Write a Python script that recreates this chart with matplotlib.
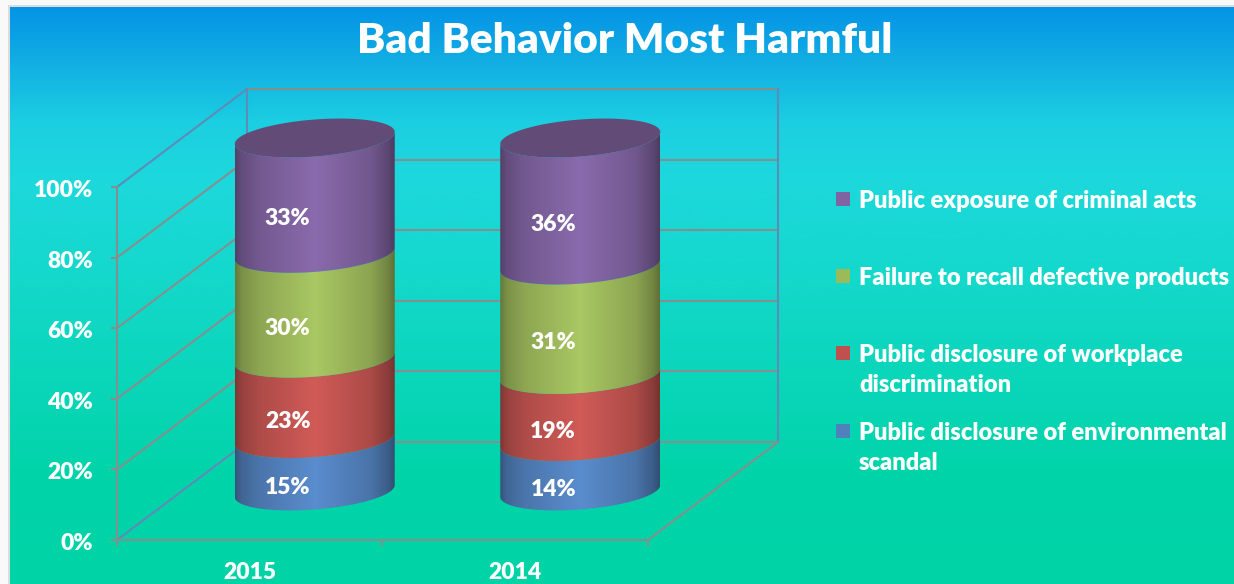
import numpy as np
import matplotlib
matplotlib.use("Agg")
import matplotlib.pyplot as plt
from matplotlib.colors import to_rgb
from matplotlib.patches import PathPatch, Rectangle
from matplotlib.path import Path
from matplotlib.transforms import ScaledTranslation

# DATA (bottom to top of the stack)
YEARS = ["2015", "2014"]
ENVIRONMENTAL = [15, 14]
WORKPLACE = [23, 19]
RECALL = [30, 31]
CRIMINAL = [33, 36]
SERIES = [ENVIRONMENTAL, WORKPLACE, RECALL, CRIMINAL]
Y_TICKS = [0, 20, 40, 60, 80, 100]
TITLE = "Bad Behavior Most Harmful"
LEGEND_LABELS = [
    "Public exposure of criminal acts",
    "Failure to recall defective products",
    "Public disclosure of workplace\ndiscrimination",
    "Public disclosure of environmental\nscandal",
]

# STYLE
W, H = 1234, 584
COLORS = ["#5a8dce", "#d15b57", "#aac863", "#8a6bad"]
LEGEND_COLORS = ["#8064a2", "#9bbb59", "#c0504d", "#4f81bd"]
LEGEND_Y = [199, 276, 353, 431]
TOP_COLOR = "#624b77"
GRID = "#84908f"
GRID_BLUE = "#5c8cb8"
FONT = "Lato"
WEIGHT = "heavy"

# Axes geometry: front plane in pixels, depth offset in data units
AX_LEFT, AX_RIGHT, AX_TOP, AX_BOTTOM = 117, 648, 187, 540
X_UNIT = (AX_RIGHT - AX_LEFT) / len(YEARS)
Y_UNIT = (AX_BOTTOM - AX_TOP) / 100
DEPTH_X = 130 / X_UNIT
DEPTH_Y = 98 / Y_UNIT
RADIUS = 80 / X_UNIT
ELL_B = 18.5 / Y_UNIT
ELL_TILT = 6 / Y_UNIT


def ellipse_xy(cx, cy, t):
    cost, sint = np.cos(t), np.sin(t)
    return cx + RADIUS * cost, cy + ELL_B * sint + ELL_TILT * cost


def draw_background(fig):
    fig.patch.set_facecolor("#f9f9f9")
    fig.add_artist(Rectangle((8 / W, 0), 1, 1 - 5 / H, transform=fig.transFigure,
                             facecolor="#dcdcdc", edgecolor="none", zorder=-1))
    bg = fig.add_axes([10 / W, 0, 1 - 10 / W, 1 - 7 / H], zorder=0)
    stops_y = [0, 0.10, 0.20, 0.30, 0.50, 0.80, 1]
    stops_c = ["#0594e6", "#12b0e3", "#1ccfe1", "#1dd8dc", "#12d8c8", "#02d4aa", "#00d3a5"]
    rows = np.linspace(0, 1, 256)
    channels = np.array([to_rgb(c) for c in stops_c])
    grad = np.stack([np.interp(rows, stops_y, channels[:, i]) for i in range(3)], axis=1)
    bg.imshow(grad[:, None, :], aspect="auto", interpolation="bilinear")
    bg.axis("off")


def draw_walls(ax):
    n = len(YEARS)
    for v in Y_TICKS:
        ax.plot([0, DEPTH_X], [v, v + DEPTH_Y],
                color=GRID_BLUE if v in (0, 100) else GRID, lw=1.5, clip_on=False, zorder=1)
        ax.plot([DEPTH_X, n + DEPTH_X], [v + DEPTH_Y, v + DEPTH_Y],
                color=GRID, lw=1.5, clip_on=False, zorder=1)
    for x in (DEPTH_X, n + DEPTH_X):
        ax.plot([x, x], [DEPTH_Y, 100 + DEPTH_Y], color=GRID_BLUE, lw=1.5, clip_on=False, zorder=1)
    ax.plot([n, n + DEPTH_X], [0, DEPTH_Y], color=GRID, lw=1.5, clip_on=False, zorder=1)


def draw_shaded(ax, fig, path, cx, lo, hi, color):
    # horizontal cylinder shading, clipped to the segment outline
    u = np.linspace(0, 1, 200)
    shade = np.interp(u, [0, 0.04, 0.15, 0.5, 0.85, 0.96, 1], [0.6, 0.72, 0.83, 1, 0.82, 0.66, 0.56])
    img = np.outer(shade, to_rgb(color))[None, :, :]
    im = ax.imshow(img, extent=[cx - RADIUS, cx + RADIUS, lo, hi], aspect="auto",
                   interpolation="bilinear", zorder=3)
    patch = PathPatch(path, transform=ax.transData, facecolor="none", edgecolor="none")
    im.set_clip_box(fig.bbox)
    im.set_clip_path(patch)


def draw_cylinder(ax, fig, i):
    cx = i + 0.5 + DEPTH_X / 2
    values = np.array([s[i] for s in SERIES], dtype=float)
    # stacked to 100%, the labelled values can add up to 101
    bounds = np.concatenate([[0], np.cumsum(values) / values.sum() * 100])
    front = np.linspace(np.pi, 2 * np.pi, 80)
    for k, value in enumerate(values):
        lo = bounds[k] + DEPTH_Y / 2
        hi = bounds[k + 1] + DEPTH_Y / 2
        top_x, top_y = ellipse_xy(cx, hi, front)
        low_x, low_y = ellipse_xy(cx, lo, front[::-1])
        verts = np.column_stack([np.r_[top_x, low_x, top_x[0]], np.r_[top_y, low_y, top_y[0]]])
        path = Path(verts)
        draw_shaded(ax, fig, path, cx, lo - ELL_B - ELL_TILT, hi + ELL_B + ELL_TILT, COLORS[k])
        ax.text(cx - 27 / X_UNIT, (bounds[k] + bounds[k + 1]) / 2 + DEPTH_Y / 2 - 23 / Y_UNIT,
                f"{value:.0f}%", color="white", fontsize=16.5, fontweight=WEIGHT,
                family=FONT, ha="center", va="center", zorder=6)
    t = np.linspace(0, 2 * np.pi, 160)
    ex, ey = ellipse_xy(cx, 100 + DEPTH_Y / 2, t)
    ax.fill(ex, ey, color=TOP_COLOR, lw=0, clip_on=False, zorder=4)


def draw_legend(fig):
    for label, color, y in zip(LEGEND_LABELS, LEGEND_COLORS, LEGEND_Y):
        fig.add_artist(Rectangle((836 / W, 1 - (y + 7) / H), 14 / W, 14 / H,
                                 transform=fig.transFigure, facecolor=color, edgecolor="none"))
        fig.text(859 / W, 1 - (y - 9) / H, label, color="white", fontsize=17,
                 fontweight=WEIGHT, family=FONT, ha="left", va="top", linespacing=1.46)


def main():
    fig = plt.figure(figsize=(W / 100, H / 100), dpi=100)
    draw_background(fig)

    ax = fig.add_axes([AX_LEFT / W, 1 - AX_BOTTOM / H, (AX_RIGHT - AX_LEFT) / W, (AX_BOTTOM - AX_TOP) / H],
                      zorder=1)
    ax.patch.set_visible(False)
    draw_walls(ax)
    for i in range(len(YEARS)):
        draw_cylinder(ax, fig, i)

    ax.set_xlim(0, len(YEARS))
    ax.set_ylim(0, 100)
    for side in ("top", "right"):
        ax.spines[side].set_visible(False)
    for side in ("left", "bottom"):
        ax.spines[side].set_color(GRID)
        ax.spines[side].set_linewidth(1.5)

    ax.set_yticks(Y_TICKS, [f"{v}%" for v in Y_TICKS])
    ax.set_xticks(range(len(YEARS) + 1), [""] * (len(YEARS) + 1))
    ax.set_xticks(np.arange(len(YEARS)) + 0.5, YEARS, minor=True)
    ax.tick_params(axis="both", which="major", color=GRID, width=1.5, length=4.5)
    ax.tick_params(axis="x", which="minor", length=0, pad=16)
    ax.tick_params(axis="y", pad=13)
    # the percent labels sit a little below their ticks in the original
    nudge = ScaledTranslation(0, -1.5 / 100, fig.dpi_scale_trans)
    for lab in ax.get_yticklabels():
        lab.set(color="white", fontsize=16.5, fontweight=WEIGHT, family=FONT)
        lab.set_transform(lab.get_transform() + nudge)
    for lab in ax.get_xticklabels(minor=True):
        lab.set(color="white", fontsize=16.5, fontweight=WEIGHT, family=FONT)

    fig.text(624.5 / W, 1 - 41 / H, TITLE, color="white", fontsize=30.5, fontweight=WEIGHT,
             family=FONT, ha="center", va="center")
    draw_legend(fig)

    fig.savefig("out.png", dpi=100, facecolor=fig.get_facecolor())


if __name__ == "__main__":
    main()
